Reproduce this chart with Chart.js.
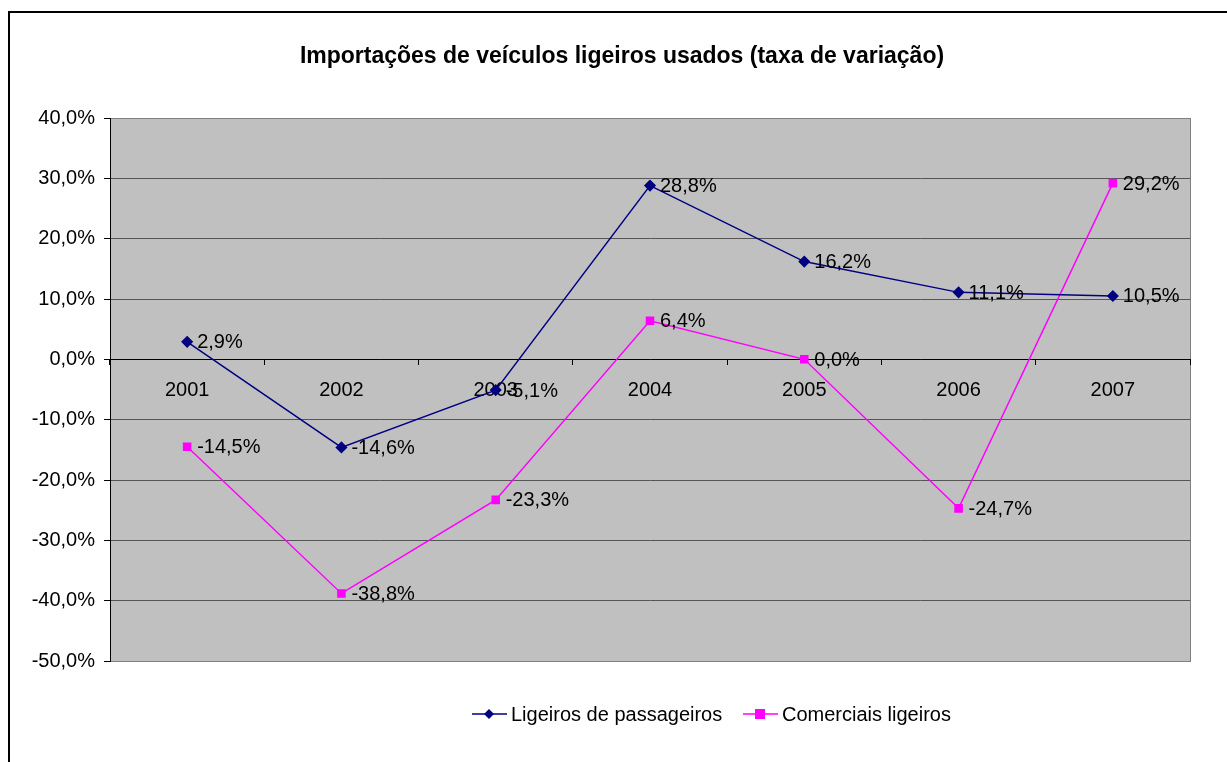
<!DOCTYPE html>
<html>
<head>
<meta charset="utf-8">
<script src="https://cdn.jsdelivr.net/npm/chart.js@4/dist/chart.umd.min.js"></script>
<style>
  html, body { margin: 0; padding: 0; background: #fff; }
  #wrap { width: 1227px; height: 762px; position: relative; }
</style>
</head>
<body>
<div id="wrap"><canvas id="chart" width="1227" height="762"></canvas></div>
<script>
// Data
const years = ['2001', '2002', '2003', '2004', '2005', '2006', '2007'];
const passageiros = [2.9, -14.6, -5.1, 28.8, 16.2, 11.1, 10.5];
const comerciais = [-14.5, -38.8, -23.3, 6.4, 0.0, -24.7, 29.2];
const seriesNames = ['Ligeiros de passageiros', 'Comerciais ligeiros'];
const titleText = 'Importações de veículos ligeiros usados (taxa de variação)';

const FONT = '"Liberation Sans", Arial, sans-serif';

function fmt(v) {
    return v.toFixed(1).replace('.', ',') + '%';
}

// Grey plot background, frame, title, value labels and legend
const decorations = {
    id: 'decorations',
    beforeDraw(chart) {
        const ctx = chart.ctx;
        const a = chart.chartArea;
        ctx.save();
        ctx.fillStyle = '#fff';
        ctx.fillRect(0, 0, chart.width, chart.height);
        // outer frame
        ctx.strokeStyle = '#000';
        ctx.lineWidth = 2;
        ctx.strokeRect(9, 12, chart.width + 20, chart.height + 20);
        // plot area
        ctx.fillStyle = '#C0C0C0';
        ctx.fillRect(a.left, a.top, a.right - a.left, a.bottom - a.top);
        ctx.strokeStyle = '#808080';
        ctx.lineWidth = 1;
        ctx.strokeRect(a.left + 0.5, a.top + 0.5, a.right - a.left, a.bottom - a.top);
        // title
        ctx.fillStyle = '#000';
        ctx.font = 'bold 23px ' + FONT;
        ctx.textAlign = 'center';
        ctx.textBaseline = 'middle';
        ctx.fillText(titleText, 622, 57);
        ctx.restore();
    },
    afterDatasetsDraw(chart) {
        const ctx = chart.ctx;
        ctx.save();
        ctx.font = '20px ' + FONT;
        ctx.fillStyle = '#000';
        ctx.textAlign = 'left';
        ctx.textBaseline = 'middle';
        chart.data.datasets.forEach((ds, i) => {
            const meta = chart.getDatasetMeta(i);
            meta.data.forEach((pt, j) => {
                ctx.fillText(fmt(ds.data[j]), pt.x + 10, pt.y + 1);
            });
        });

        // legend
        const items = [
            { x: 472, ds: chart.data.datasets[0] },
            { x: 743, ds: chart.data.datasets[1] }
        ];
        const ly = 714;
        items.forEach(it => {
            ctx.strokeStyle = it.ds.borderColor;
            ctx.lineWidth = 1.5;
            ctx.beginPath();
            ctx.moveTo(it.x, ly);
            ctx.lineTo(it.x + 35, ly);
            ctx.stroke();
            ctx.fillStyle = it.ds.pointBackgroundColor;
            const cx = it.x + 17;
            if (it.ds.pointStyle === 'rectRot') {
                ctx.beginPath();
                ctx.moveTo(cx, ly - 5);
                ctx.lineTo(cx + 5, ly);
                ctx.lineTo(cx, ly + 5);
                ctx.lineTo(cx - 5, ly);
                ctx.closePath();
                ctx.fill();
            } else {
                ctx.fillRect(cx - 5, ly - 5, 10, 10);
            }
            ctx.fillStyle = '#000';
            ctx.fillText(it.ds.label, it.x + 39, ly + 1);
        });
        ctx.restore();
    }
};

new Chart(document.getElementById('chart').getContext('2d'), {
    type: 'line',
    data: {
        labels: years,
        datasets: [{
            label: seriesNames[0],
            data: passageiros,
            borderColor: '#000080',
            backgroundColor: '#000080',
            pointBackgroundColor: '#000080',
            pointBorderColor: '#000080',
            pointStyle: 'rectRot',
            pointRadius: 5,
            borderWidth: 1.5,
            tension: 0
        }, {
            label: seriesNames[1],
            data: comerciais,
            borderColor: '#FF00FF',
            backgroundColor: '#FF00FF',
            pointBackgroundColor: '#FF00FF',
            pointBorderColor: '#FF00FF',
            pointStyle: 'rect',
            pointRadius: 5,
            borderWidth: 1.5,
            tension: 0
        }]
    },
    options: {
        responsive: false,
        animation: false,
        layout: {
            padding: { left: 0, top: 118, right: 37, bottom: 101 }
        },
        scales: {
            x: {
                position: { y: 0 },
                offset: true,
                grid: {
                    offset: true,
                    drawOnChartArea: false,
                    drawTicks: true,
                    tickLength: 5,
                    color: '#000'
                },
                border: { display: true, color: '#000', width: 1 },
                ticks: {
                    color: '#000',
                    font: { family: FONT, size: 20 },
                    padding: 14,
                    maxRotation: 0
                }
            },
            y: {
                min: -50,
                max: 40,
                afterFit(scale) { scale.width = 110; },
                grid: {
                    color: (c) => (c.tick && (c.tick.value === 40 || c.tick.value === -50)) ? '#808080' : '#555555',
                    tickColor: '#000',
                    tickLength: 6,
                    lineWidth: 1
                },
                border: { display: true, color: '#000', width: 1 },
                ticks: {
                    stepSize: 10,
                    color: '#000',
                    padding: 9,
                    font: { family: FONT, size: 20 },
                    callback: (v) => fmt(v)
                }
            }
        },
        plugins: {
            legend: { display: false },
            title: { display: false },
            tooltip: { enabled: false }
        }
    },
    plugins: [decorations]
});
</script>
</body>
</html>
